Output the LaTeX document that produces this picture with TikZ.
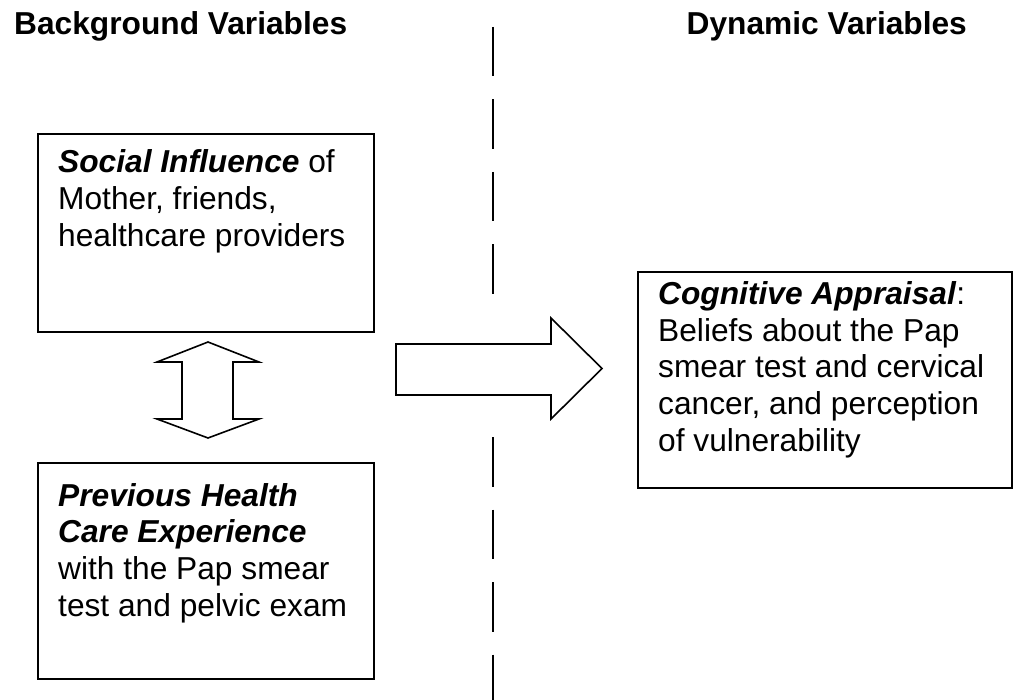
\documentclass[tikz,border=0pt]{standalone}
\usepackage{fontspec}
\setmainfont{Liberation Sans}
\begin{document}
\begin{tikzpicture}[x=1pt,y=-1pt,
  box/.style={draw=black, line width=2pt, rectangle, inner sep=0pt, anchor=north west, fill=white},
  txt/.style={inner sep=0pt, anchor=base west, font=\fontsize{31.7}{36.8}\selectfont},
  ttl/.style={inner sep=0pt, anchor=base west, font=\fontsize{31.7}{36.8}\selectfont\bfseries},
  blockarrow/.style={draw=black, fill=white, line width=1.6pt, line join=miter},
  divider/.style={draw=black, line width=2pt, dash pattern=on 49.5pt off 23pt}]
\useasboundingbox (0,0) rectangle (1014,700);

% titles
\node[ttl] (bgtitle) at (14,35) {Background Variables};
\node[ttl] (dyntitle) at (686.5,35) {Dynamic Variables};

% dividing dashed line
\coordinate (divtop) at (493,27);
\coordinate (divmid1) at (493,296);
\coordinate (divmid2) at (493,437);
\coordinate (divbot) at (493,701);
\draw[divider] (divtop) -- (divmid1);
\draw[divider] (divmid2) -- (divbot);

% boxes
\node[box, minimum width=336pt, minimum height=198.5pt] (social) at (37,133) {};
\node[box, minimum width=336pt, minimum height=216pt] (previous) at (37,462) {};
\node[box, minimum width=374pt, minimum height=216pt] (cognitive) at (637,271) {};

% box texts
\node[txt] (socialtxt) at (58,172.7) {\vtop{\hbox{\textbf{\textit{Social Influence}} of}\hbox{Mother, friends,}\hbox{healthcare providers}}};
\node[txt] (previoustxt) at (58,506) {\vtop{\hbox{\textbf{\textit{Previous Health}}}\hbox{\textbf{\textit{Care Experience}}}\hbox{with the Pap smear}\hbox{test and pelvic exam}}};
\node[txt] (cognitivetxt) at (658,304.4) {\vtop{\hbox{\textbf{\textit{Cognitive Appraisal}}:}\hbox{Beliefs about the Pap}\hbox{smear test and cervical}\hbox{cancer, and perception}\hbox{of vulnerability}}};

% double-headed block arrow between the two background boxes
\draw[blockarrow] (208,342) -- (259,362) -- (233,362) -- (233,419) -- (259,419) -- (208,438)
  -- (157,419) -- (182,419) -- (182,362) -- (157,362) -- cycle;

% block arrow towards the dynamic variables
\draw[blockarrow] (396,344) -- (551,344) -- (551,318) -- (602,368.5) -- (551,419)
  -- (551,395) -- (396,395) -- cycle;
\end{tikzpicture}
\end{document}
